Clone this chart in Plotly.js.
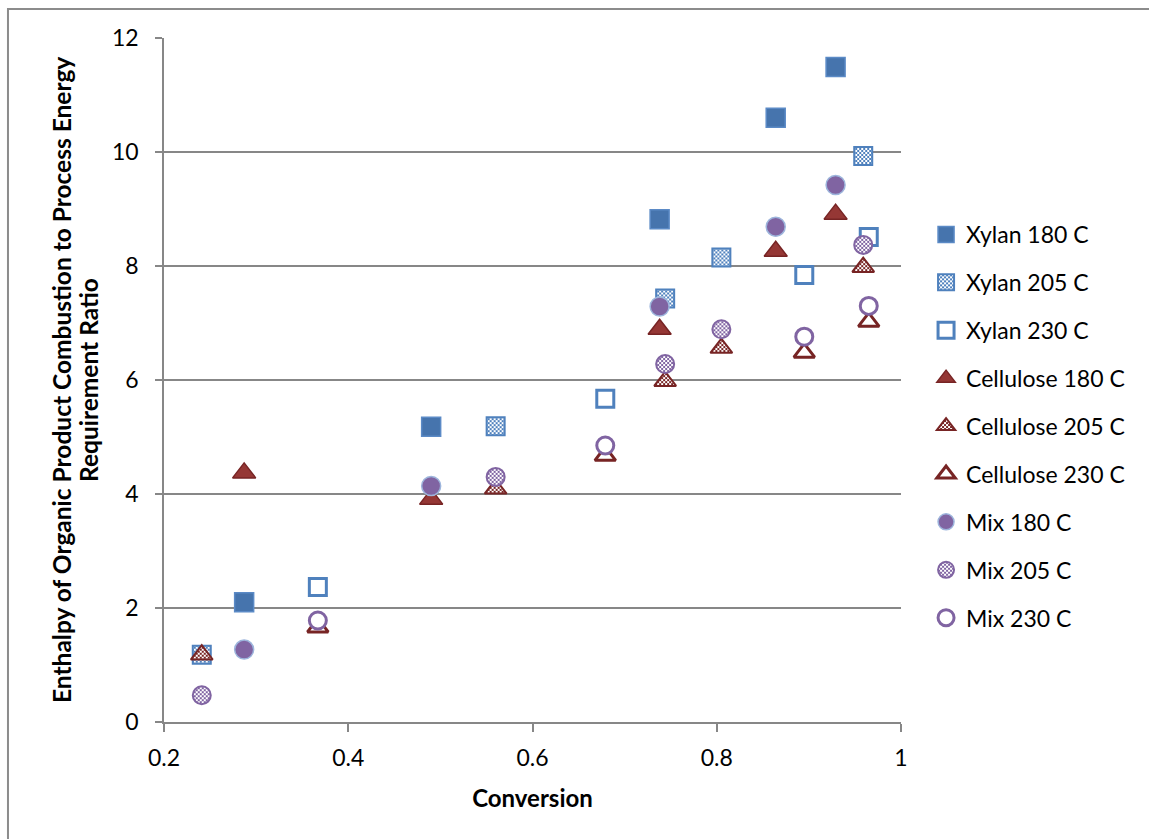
<!DOCTYPE html>
<html>
<head>
<meta charset="utf-8">
<script src="https://cdn.plot.ly/plotly-3.0.1.min.js"></script>
<style>
  html, body { margin: 0; padding: 0; background: #ffffff; }
  #chart { width: 1149px; height: 839px; }
</style>
</head>
<body>
<div id="chart"></div>
<script>
// ---- Data ----
const seriesNames = ["Xylan 180 C", "Xylan 205 C", "Xylan 230 C",
                     "Cellulose 180 C", "Cellulose 205 C", "Cellulose 230 C",
                     "Mix 180 C", "Mix 205 C", "Mix 230 C"];

const xylan180X = [0.287, 0.490, 0.738, 0.864, 0.929];
const xylan180Y = [2.10, 5.18, 8.82, 10.60, 11.49];
const xylan205X = [0.241, 0.560, 0.744, 0.805, 0.959];
const xylan205Y = [1.18, 5.19, 7.43, 8.15, 9.93];
const xylan230X = [0.367, 0.679, 0.895, 0.965];
const xylan230Y = [2.37, 5.67, 7.84, 8.51];

const cell180X = [0.287, 0.490, 0.738, 0.864, 0.929];
const cell180Y = [4.37, 3.91, 6.89, 8.26, 8.91];
const cell205X = [0.241, 0.560, 0.744, 0.805, 0.959];
const cell205Y = [1.18, 4.09, 5.98, 6.56, 7.98];
const cell230X = [0.367, 0.679, 0.895, 0.965];
const cell230Y = [1.66, 4.67, 6.48, 7.02];

const mix180X = [0.287, 0.490, 0.738, 0.864, 0.929];
const mix180Y = [1.27, 4.14, 7.29, 8.69, 9.42];
const mix205X = [0.241, 0.560, 0.744, 0.805, 0.959];
const mix205Y = [0.47, 4.30, 6.28, 6.89, 8.37];
const mix230X = [0.367, 0.679, 0.895, 0.965];
const mix230Y = [1.78, 4.85, 6.76, 7.30];

const xTickVals = [0.2, 0.4, 0.6, 0.8, 1];
const xTickText = ["0.2", "0.4", "0.6", "0.8", "1"];
const yTickVals = [0, 2, 4, 6, 8, 10, 12];
const yTickText = ["0", "2", "4", "6", "8", "10", "12"];

const xTitle = "Conversion";
const yTitleLines = ["Enthalpy of Organic Product Combustion to Process Energy",
                     "Requirement Ratio"];

// ---- Styles ----
const BLUE = "#4f81bd", BLUE_DARK = "#4674ad";
const RED = "#953735", RED_DARK = "#772424";
const PURPLE = "#8064a2";
const FONT = "Lato, 'Open Sans', sans-serif";

const xs = [xylan180X, xylan205X, xylan230X, cell180X, cell205X, cell230X, mix180X, mix205X, mix230X];
const ys = [xylan180Y, xylan205Y, xylan230Y, cell180Y, cell205Y, cell230Y, mix180Y, mix205Y, mix230Y];

const markers = [
  {symbol: "square", size: 19, color: BLUE_DARK, line: {color: "#5b8ac6", width: 1.5}},
  {symbol: "square", size: 18, color: "#b0c6e4", line: {color: BLUE, width: 2}},
  {symbol: "square", size: 17, color: "#ffffff", line: {color: BLUE, width: 3}},
  {symbol: "triangle-up", size: 20, color: RED, line: {color: RED_DARK, width: 1.5}},
  {symbol: "triangle-up", size: 19, color: "#c99a9a", line: {color: RED_DARK, width: 2}},
  {symbol: "triangle-up", size: 18, color: "#ffffff", line: {color: RED_DARK, width: 3}},
  {symbol: "circle", size: 19, color: PURPLE, line: {color: "#9db5dc", width: 1.5}},
  {symbol: "circle", size: 18, color: "#c4b5d8", line: {color: PURPLE, width: 2}},
  {symbol: "circle", size: 17, color: "#ffffff", line: {color: PURPLE, width: 3}}
];

// which traces get a checker pattern fill, and its colour
const patternColors = {1: BLUE, 4: RED_DARK, 7: PURPLE};

const traces = seriesNames.map((name, i) => ({
  type: "scatter",
  mode: "markers",
  name: name,
  x: xs[i],
  y: ys[i],
  marker: markers[i],
  legendgroup: "g" + i,
  cliponaxis: false,
  hoverinfo: "x+y+name"
}));

const GRID = "#878787";
const TICKFONT = {family: FONT, size: 23, color: "#000000"};

const layout = {
  width: 1149,
  height: 839,
  margin: {l: 164, r: 248, t: 38, b: 117, pad: 0},
  paper_bgcolor: "#ffffff",
  plot_bgcolor: "#ffffff",
  font: {family: FONT, size: 23, color: "#000000"},
  showlegend: true,
  legend: {
    x: 1.034, xanchor: "left",
    y: 0.432, yanchor: "middle",
    font: {family: FONT, size: 23, color: "#000000"},
    tracegroupgap: 15,
    itemwidth: 30,
    bgcolor: "rgba(0,0,0,0)"
  },
  xaxis: {
    range: [0.2, 1],
    tickmode: "array",
    tickvals: xTickVals,
    ticktext: xTickText,
    showgrid: false,
    zeroline: false,
    showline: true,
    linecolor: GRID,
    linewidth: 1.5,
    ticks: "outside",
    ticklen: 8,
    tickwidth: 1.5,
    tickcolor: GRID,
    ticklabelstandoff: 7,
    tickfont: TICKFONT,
    title: {text: xTitle, font: {family: FONT, size: 24, color: "#000000", weight: "bold"}, standoff: 20}
  },
  yaxis: {
    range: [0, 12],
    tickmode: "array",
    tickvals: yTickVals,
    ticktext: yTickText,
    showgrid: true,
    gridcolor: GRID,
    gridwidth: 1.5,
    zeroline: false,
    showline: true,
    linecolor: GRID,
    linewidth: 1.5,
    ticks: "outside",
    ticklen: 7,
    tickwidth: 1.5,
    tickcolor: GRID,
    ticklabelstandoff: 12,
    tickfont: TICKFONT
  },
  annotations: yTitleLines.map((t, i) => ({
    text: "<b>" + t + "</b>",
    xref: "paper", yref: "paper",
    x: i === 0 ? -0.1398 : -0.1031,
    y: 0.5,
    xanchor: "center", yanchor: "middle",
    textangle: -90,
    showarrow: false,
    font: {family: FONT, size: 24.5, color: "#000000"}
  })),
  shapes: [{
    type: "rect", xref: "paper", yref: "paper",
    x0: -0.2117, x1: 1.6, y0: -0.2, y1: 1.0424,
    line: {color: "#8c8c8c", width: 2},
    fillcolor: "rgba(0,0,0,0)",
    layer: "below"
  }]
};

function applyPatterns(gd) {
  const NS = "http://www.w3.org/2000/svg";
  const svg = gd.querySelector(".main-svg");
  if (!svg) return;
  let defs = svg.querySelector("defs.chk-defs");
  if (!defs) {
    defs = document.createElementNS(NS, "defs");
    defs.setAttribute("class", "chk-defs");
    svg.insertBefore(defs, svg.firstChild);
    Object.keys(patternColors).forEach(k => {
      const p = document.createElementNS(NS, "pattern");
      p.setAttribute("id", "chk" + k);
      p.setAttribute("patternUnits", "userSpaceOnUse");
      p.setAttribute("width", "4");
      p.setAttribute("height", "4");
      const bg = document.createElementNS(NS, "rect");
      bg.setAttribute("width", "4"); bg.setAttribute("height", "4");
      bg.setAttribute("fill", "#ffffff");
      p.appendChild(bg);
      [[0, 0], [2, 2]].forEach(([a, b]) => {
        const r = document.createElementNS(NS, "rect");
        r.setAttribute("x", a); r.setAttribute("y", b);
        r.setAttribute("width", "2"); r.setAttribute("height", "2");
        r.setAttribute("fill", patternColors[k]);
        p.appendChild(r);
      });
      defs.appendChild(p);
    });
  }
  const trs = gd.querySelectorAll(".scatterlayer .trace");
  trs.forEach((tr, i) => {
    if (patternColors[i]) {
      tr.querySelectorAll("path.point").forEach(pt => { pt.style.fill = "url(#chk" + i + ")"; });
    }
  });
  const legs = gd.querySelectorAll(".legend .traces");
  legs.forEach((lg, i) => {
    if (patternColors[i]) {
      lg.querySelectorAll(".legendpoints path").forEach(pt => { pt.style.fill = "url(#chk" + i + ")"; });
    }
  });
}

Plotly.newPlot("chart", traces, layout, {displayModeBar: false, responsive: false}).then(gd => {
  applyPatterns(gd);
  gd.on("plotly_afterplot", () => applyPatterns(gd));
});
</script>
</body>
</html>
